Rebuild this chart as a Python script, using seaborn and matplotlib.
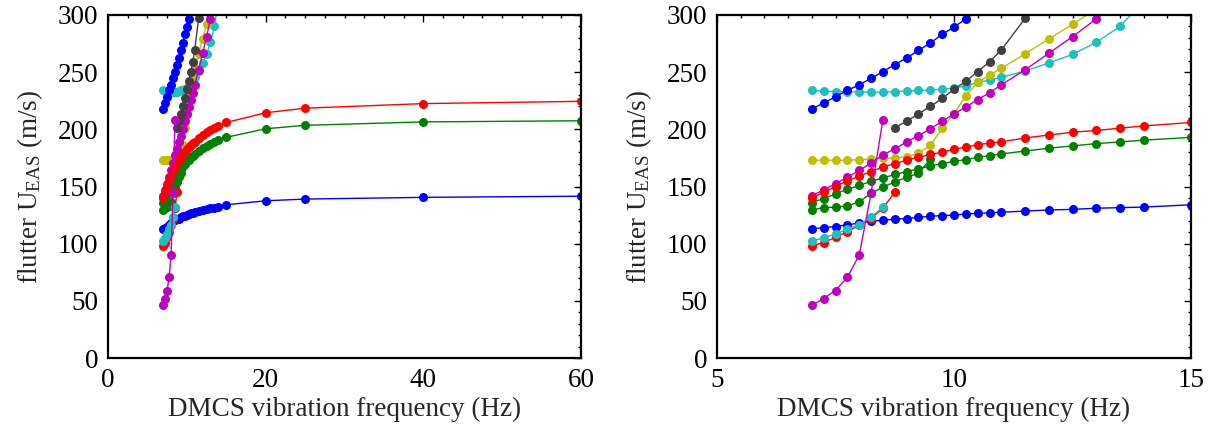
import numpy as np
import pandas as pd
import matplotlib
matplotlib.use("Agg")
import matplotlib.pyplot as plt
import seaborn as sns
from matplotlib.ticker import MultipleLocator

# frequency grids (Hz)
freq_main = [7.0, 7.25, 7.5, 7.75, 8.0, 8.25, 8.5, 8.75, 9.0, 9.25, 9.5, 9.75, 10.0,
             10.25, 10.5, 10.75, 11.0, 11.5, 12.0, 12.5, 13.0, 13.5, 14.0, 15.0,
             20.0, 25.0, 40.0, 60.0]
freq_blue_hi = [7.0, 7.25, 7.5, 7.75, 8.0, 8.25, 8.5, 8.75, 9.0, 9.25, 9.5, 9.75, 10.0, 10.25, 10.5]
freq_cyan_hi = [7.0, 7.25, 7.5, 7.75, 8.0, 8.25, 8.5, 8.75, 9.0, 9.25, 9.5, 9.75, 10.0,
                10.25, 10.5, 10.75, 11.0, 11.5, 12.0, 12.5, 13.0, 13.5, 14.0]
freq_yellow = [7.0, 7.25, 7.5, 7.75, 8.0, 8.25, 8.5, 8.75, 9.0, 9.25, 9.5, 9.75, 10.0,
               10.25, 10.5, 10.75, 11.0, 11.5, 12.0, 12.5, 13.0]
freq_mag_hi = [7.0, 7.25, 7.5, 7.75, 8.0, 8.25, 8.5, 8.75, 9.0, 9.25, 9.5, 9.75, 10.0,
               10.25, 10.5, 10.75, 11.0, 11.5, 12.0, 12.5, 13.0, 13.5]
freq_black = [8.75, 9.0, 9.25, 9.5, 9.75, 10.0, 10.25, 10.5, 10.75, 11.0, 11.5, 12.0]
freq_green_lo = [7.0, 7.25, 7.5, 7.75, 8.0, 8.25, 8.5, 8.75, 9.0, 9.25, 9.5]
freq_red_lo = [7.0, 7.25, 7.5, 7.75, 8.0, 8.25, 8.5, 8.75]
freq_cyan_lo = [7.0, 7.25, 7.5, 7.75, 8.0, 8.25, 8.5]
freq_mag_lo = [7.0, 7.25, 7.5, 7.75, 8.0, 8.25, 8.5]

# flutter speed U_EAS (m/s)
u_blue_lo = [113, 114, 115, 116.5, 118, 119.5, 120.5, 121.5, 122, 123, 124, 124.5, 125,
             126, 126.5, 127, 127.5, 128.5, 129.5, 130, 131, 131.5, 132, 134,
             137.5, 139, 140.5, 141.5]
u_red_hi = [140, 145, 150, 155, 159, 163, 167, 170, 173, 175.5, 178, 180, 182.5,
            184.5, 186.5, 188, 189, 192.5, 195, 197.5, 199, 201, 203, 206,
            214.5, 218.5, 222.5, 224.5]
u_green_hi = [136, 139.5, 143.5, 147.5, 151, 154.5, 157.5, 160.5, 163, 165.5, 168, 170, 172,
              173.5, 175.5, 177, 178.5, 181, 183.5, 185.5, 187.5, 189, 190.5, 193,
              200.5, 203.5, 206.5, 207.5]
u_blue_hi = [218, 223, 228.5, 234, 239, 244.5, 250.5, 256.5, 262.5, 269, 275.5, 283, 289.5, 296.5, 304]
u_cyan_hi = [234, 233.5, 233, 233, 232.5, 232.5, 232.5, 233, 233.5, 234, 234.5, 235, 236,
             238, 241, 243, 245.5, 251, 258, 265.5, 276, 290, 312]
u_yellow = [173, 173, 173, 173, 173.5, 174, 174.5, 175, 176, 179, 186, 201, 213.5,
            229.5, 241, 247.5, 253.5, 266, 279, 292, 305]
u_mag_hi = [142, 147, 152.5, 158, 164, 170.5, 177.5, 183, 189, 194.5, 200.5, 207, 213.5,
            219.5, 226, 232, 239, 252, 266.5, 281, 296.5, 312]
u_black = [201.5, 207, 213.5, 220, 227, 235, 242, 250.5, 259, 269.5, 297, 325]
u_green_lo = [129.5, 131.5, 132, 133, 136.5, 144, 149.5, 154, 158, 161.5, 174]
u_red_lo = [98, 101, 105.5, 110.5, 116, 122, 131, 145]
u_cyan_lo = [102.5, 105, 108.5, 112.5, 116.5, 123, 132]
u_mag_lo = [46, 52, 59, 70.5, 90, 144, 208.5]

branches = [
    ("cyan_hi", freq_cyan_hi, u_cyan_hi),
    ("yellow", freq_yellow, u_yellow),
    ("mag_hi", freq_mag_hi, u_mag_hi),
    ("black", freq_black, u_black),
    ("blue_hi", freq_blue_hi, u_blue_hi),
    ("green_lo", freq_green_lo, u_green_lo),
    ("green_hi", freq_main, u_green_hi),
    ("red_hi", freq_main, u_red_hi),
    ("blue_lo", freq_main, u_blue_lo),
    ("red_lo", freq_red_lo, u_red_lo),
    ("cyan_lo", freq_cyan_lo, u_cyan_lo),
    ("mag_lo", freq_mag_lo, u_mag_lo),
]
palette = {
    "blue_lo": "#0000ff", "blue_hi": "#0000ff",
    "red_hi": "#ff0000", "red_lo": "#ff0000",
    "green_hi": "#008000", "green_lo": "#008000",
    "cyan_hi": "#1fbfbf", "cyan_lo": "#1fbfbf",
    "mag_hi": "#bf00bf", "mag_lo": "#bf00bf",
    "yellow": "#bfbf00", "black": "#404040",
}

df = pd.concat([pd.DataFrame({"freq": f, "u": u, "branch": name}) for name, f, u in branches],
               ignore_index=True)

sns.set_style("white")
plt.rcParams["font.family"] = ["Liberation Serif", "DejaVu Serif"]
plt.rcParams["mathtext.fontset"] = "custom"
plt.rcParams["mathtext.rm"] = "Liberation Serif"
plt.rcParams["mathtext.it"] = "Liberation Serif:italic"

fig = plt.figure(figsize=(12.11, 4.37), dpi=100)
ax1 = fig.add_axes([108 / 1211, 79 / 437, 473 / 1211, 343 / 437])
ax2 = fig.add_axes([717 / 1211, 79 / 437, 474 / 1211, 343 / 437])

for ax, xlim, xmaj, xmin in [(ax1, (0, 60), 20, 2.5), (ax2, (5, 15), 5, 0.5)]:
    sns.lineplot(data=df, x="freq", y="u", hue="branch", palette=palette,
                 hue_order=[b[0] for b in branches], sort=False, estimator=None,
                 marker="o", markersize=6.5, markeredgewidth=0, linewidth=1,
                 legend=False, ax=ax)
    ax.set_xlim(*xlim)
    ax.set_ylim(0, 300)
    ax.xaxis.set_major_locator(MultipleLocator(xmaj))
    ax.xaxis.set_minor_locator(MultipleLocator(xmin))
    ax.yaxis.set_major_locator(MultipleLocator(50))
    ax.yaxis.set_minor_locator(MultipleLocator(10))
    ax.tick_params(which="both", direction="in", top=True, right=True, colors="black",
                   labelsize=19.5, width=1)
    ax.tick_params(which="major", length=5, pad=7)
    ax.tick_params(which="minor", length=2.5)
    for s in ax.spines.values():
        s.set_color("black")
        s.set_linewidth(1.6)
    ax.set_xlabel("DMCS vibration frequency (Hz)", fontsize=19.5, labelpad=3)
    ax.set_ylabel(r"flutter U$_{\mathrm{EAS}}$ (m/s)", fontsize=19.5, labelpad=9)

fig.savefig("out.png", dpi=100, facecolor="white")
